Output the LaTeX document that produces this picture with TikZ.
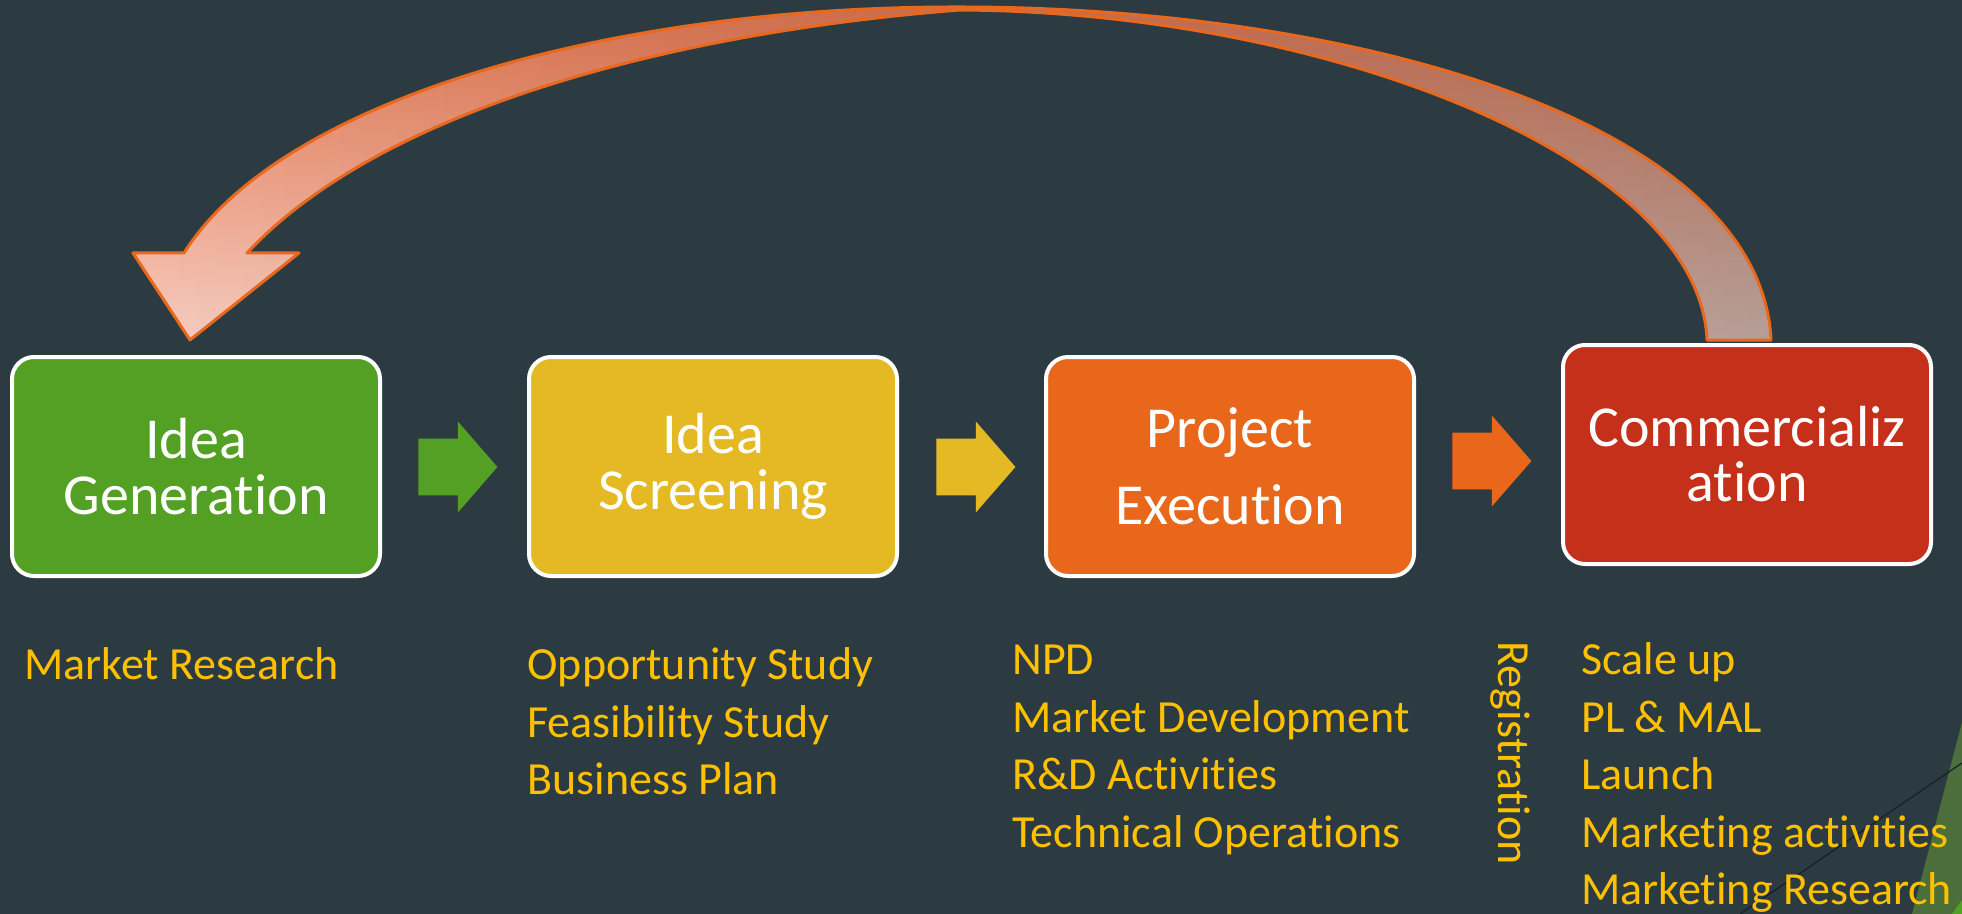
\documentclass[tikz,border=0pt]{standalone}
\usepackage{fontspec}
\setmainfont{Carlito}[Ligatures=NoCommon]
\usetikzlibrary{positioning,calc,shapes.arrows,fadings}

\definecolor{slate}{HTML}{2C3B42}
\definecolor{leafgreen}{HTML}{54A024}
\definecolor{mustard}{HTML}{E5B923}
\definecolor{pumpkin}{HTML}{E8671A}
\definecolor{brick}{HTML}{C5301B}
\definecolor{gold}{HTML}{FFC000}
\definecolor{loopline}{HTML}{E8681E}
\definecolor{looptop}{HTML}{E8764E}
\definecolor{loopbottom}{HTML}{F7CDC0}
\definecolor{cornergreen}{HTML}{4B6E3A}

\tikzfading[name=darkright, left color=transparent!100, right color=transparent!0]

% the big return arrow, in pixel units
\newcommand{\returnpath}{(1707,340) .. controls (1700,160) and (1330,12) .. (960,10)
  .. controls (700,30) and (390,100) .. (247,253) -- (299,253) -- (190,340) -- (133,253) -- (184,253)
  .. controls (280,100) and (610,6) .. (960,7)
  .. controls (1350,7) and (1760,120) .. (1771,340) -- cycle}

\begin{document}
\begin{tikzpicture}[x=0.5pt,y=-0.5pt,node distance=258.5pt,on grid,
  stage/.style={draw=white,line width=2pt,rounded corners=11pt,minimum width=184pt,minimum height=109.5pt,
    text=white,align=center,font=\fontsize{29}{28}\selectfont},
  blockarrow/.style={single arrow,single arrow head extend=8.5pt,single arrow tip angle=98,
    minimum height=39.5pt,inner xsep=0pt,inner ysep=14pt,anchor=tail,draw=none},
  tasks/.style={text=gold,align=left,anchor=base west,inner sep=0pt,font=\fontsize{23}{28.8}\selectfont}]
  \useasboundingbox (0,0) rectangle (1962,914);
  \fill[slate] (0,0) rectangle (1962,914);
  \fill[cornergreen] (1912,914) -- (1962,722) -- (1962,914) -- cycle;
  \fill[leafgreen] (1952,914) -- (1962,900) -- (1962,914) -- cycle;
  \draw[black!45!slate,line width=0.6pt] (1740,914) -- (1962,763);

  \shade[top color=looptop,bottom color=loopbottom] \returnpath;
  \fill[slate,fill opacity=0.32,path fading=darkright] \returnpath;
  \draw[loopline,line width=1.5pt,line join=round] \returnpath;

  \node[stage,fill=leafgreen] (gen) at (196,466.5) {Idea\\Generation};
  \node[stage,fill=mustard]   (scr) [right=of gen] {Idea\\Screening};
  \node[stage,fill=pumpkin]   (exe) [right=of scr] {Project\\[10.5pt]Execution};
  \node[stage,fill=brick]     (com) [right=of exe,yshift=6pt] {Commercializ\\[-0.5pt]ation};

  \node[blockarrow,fill=leafgreen] (a1) at ($(gen.east)+(36,0.5)$) {};
  \node[blockarrow,fill=mustard]   (a2) at ($(scr.east)+(37,0.5)$) {};
  \node[blockarrow,fill=pumpkin]   (a3) at ($(exe.east)+(36,-5.5)$) {};

  % base of a multi-line node is its last line
  \node[tasks] (genlist) at (24,679.5) {Market Research};
  \node[tasks] (scrlist) at (527,794.7) {Opportunity Study\\Feasibility Study\\Business Plan};
  \node[tasks] (exelist) at (1012,847.3) {NPD\\Market Development\\R\&D Activities\\Technical Operations};
  \node[text=gold,rotate=-90,anchor=west,inner sep=0pt,font=\fontsize{23}{28.8}\selectfont] (reg) at (1510,641) {Registration};
  \node[tasks] (comlist) at (1581,904.9) {Scale up\\PL \& MAL\\Launch\\Marketing activities\\Marketing Research};
\end{tikzpicture}
\end{document}
